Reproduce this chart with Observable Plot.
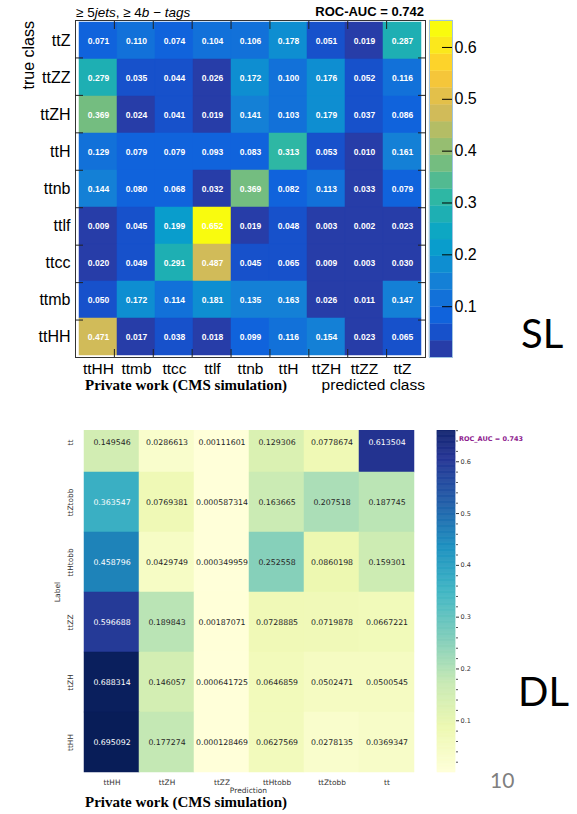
<!DOCTYPE html>
<html><head><meta charset="utf-8">
<script src="https://cdn.jsdelivr.net/npm/d3@7"></script>
<script src="https://cdn.jsdelivr.net/npm/@observablehq/plot@0.6"></script>
<style>
body{margin:0;background:#fff;}
#page{position:relative;width:577px;height:814px;overflow:hidden;background:#fff;}
.abs{position:absolute;white-space:nowrap;}
</style></head><body><div id="page"></div>
<script>
// ---------- SL (top) data ----------
const slTrue = ["ttZ","ttZZ","ttZH","ttH","ttnb","ttlf","ttcc","ttmb","ttHH"];
const slPred = ["ttHH","ttmb","ttcc","ttlf","ttnb","ttH","ttZH","ttZZ","ttZ"];
const slValues = [
  [0.071,0.110,0.074,0.104,0.106,0.178,0.051,0.019,0.287],
  [0.279,0.035,0.044,0.026,0.172,0.100,0.176,0.052,0.116],
  [0.369,0.024,0.041,0.019,0.141,0.103,0.179,0.037,0.086],
  [0.129,0.079,0.079,0.093,0.083,0.313,0.053,0.010,0.161],
  [0.144,0.080,0.068,0.032,0.369,0.082,0.113,0.033,0.079],
  [0.009,0.045,0.199,0.652,0.019,0.048,0.003,0.002,0.023],
  [0.020,0.049,0.291,0.487,0.045,0.065,0.009,0.003,0.030],
  [0.050,0.172,0.114,0.181,0.135,0.163,0.026,0.011,0.147],
  [0.471,0.017,0.038,0.018,0.099,0.116,0.154,0.023,0.065]
];
const slTicks = [0.1,0.2,0.3,0.4,0.5,0.6];
const slLevels = 20;

// ---------- DL (bottom) data ----------
const dlTrue = ["tt","ttZtobb","ttHtobb","ttZZ","ttZH","ttHH"];
const dlPred = ["ttHH","ttZH","ttZZ","ttHtobb","ttZtobb","tt"];
const dlValues = [
  [0.149546,0.0286613,0.00111601,0.129306,0.0778674,0.613504],
  [0.363547,0.0769381,0.000587314,0.163665,0.207518,0.187745],
  [0.458796,0.0429749,0.000349959,0.252558,0.0860198,0.159301],
  [0.596688,0.189843,0.00187071,0.0728885,0.0719878,0.0667221],
  [0.688314,0.146057,0.000641725,0.0646859,0.0502471,0.0500545],
  [0.695092,0.177274,0.000128469,0.0627569,0.0278135,0.0369347]
];
const dlTicks = [0.1,0.2,0.3,0.4,0.5,0.6];
const dlMinorTicks = [0.02,0.04,0.06,0.08,0.12,0.14,0.16,0.18,0.22,0.24,0.26,0.28,0.32,0.34,0.36,0.38,0.42,0.44,0.46,0.48,0.52,0.54,0.56,0.58,0.62,0.64,0.66,0.68];

// ---------- colour maps ----------
const kbStops=[0,.125,.25,.375,.5,.625,.75,.875,1];
const kbR=[0.2082,0.0592,0.0780,0.0232,0.1802,0.5301,0.8186,0.9956,0.9764];
const kbG=[0.1664,0.3599,0.5041,0.6419,0.7178,0.7492,0.7328,0.7862,0.9832];
const kbB=[0.5293,0.8684,0.8385,0.7914,0.6425,0.4662,0.3499,0.1968,0.0539];
const kbR_ = d3.scaleLinear().domain(kbStops).range(kbR);
const kbG_ = d3.scaleLinear().domain(kbStops).range(kbG);
const kbB_ = d3.scaleLinear().domain(kbStops).range(kbB);
const kbird = t => d3.rgb(kbR_(t)*255,kbG_(t)*255,kbB_(t)*255).formatHex();
const slFlat = slValues.flat();
const slMin = d3.min(slFlat), slMax = d3.max(slFlat);
const levelColor = i => kbird(Math.floor((i+0.99)*255/slLevels)/254);
const levelOf = v => Math.max(0, Math.min(slLevels-1, Math.floor((v-slMin)/(slMax-slMin)*slLevels)));
const slColor = v => levelColor(levelOf(v));

const ylgnbu = d3.piecewise(d3.interpolateRgb, ["#ffffd9","#edf8b1","#c7e9b4","#7fcdbb","#41b6c4","#1d91c0","#225ea8","#253494","#081d58"]);
const dlFlat = dlValues.flat();
const dlMin = d3.min(dlFlat), dlMax = d3.max(dlFlat);
const dlColor = v => d3.rgb(ylgnbu((v-dlMin)/(dlMax-dlMin))).formatHex();
function lum(hex){const c=d3.rgb(hex);const f=x=>{x/=255;return x<=0.03928?x/12.92:Math.pow((x+0.055)/1.055,2.4)};return 0.2126*f(c.r)+0.7152*f(c.g)+0.0722*f(c.b);}

const page = document.getElementById("page");
function place(el, left, top){ el.style.position="absolute"; el.style.left=left+"px"; el.style.top=top+"px"; return el; }
const BASE = {"Liberation Sans":0.8465,"Liberation Serif":0.8375,"DejaVu Sans":0.846,"Lato":0.887};
function label(html,{x,y,size,font="Liberation Sans",weight="normal",color="#000",anchor="start",parent=page}){
  const d=document.createElement("div"); d.className="abs"; d.innerHTML=html;
  d.style.font=`${weight} ${size}px "${font}"`; d.style.lineHeight=size+"px"; d.style.color=color;
  d.style.top=(y-BASE[font]*size)+"px";
  if(anchor==="start") d.style.left=x+"px";
  else if(anchor==="end") d.style.right=(577-x)+"px";
  else {d.style.left=x+"px"; d.style.transform="translateX(-50%)";}
  parent.appendChild(d); return d;
}
function vlabel(html,{xBase,yAnchor,size,font="Liberation Sans",color="#000",align="right"}){
  const W=200; const d=document.createElement("div"); d.className="abs"; d.innerHTML=html;
  d.style.font=`${size}px "${font}"`; d.style.lineHeight=size+"px"; d.style.color=color;
  d.style.width=W+"px"; d.style.textAlign=align; d.style.transformOrigin="0 0"; d.style.transform="rotate(-90deg)";
  d.style.left=(xBase-BASE[font]*size)+"px";
  d.style.top=(align==="right"? yAnchor+W : yAnchor+W/2)+"px";
  page.appendChild(d);
}

// ---------- SL heatmap ----------
const slData = slTrue.flatMap((t,i)=>slPred.map((p,j)=>({t,p,v:slValues[i][j]})));
const slPlot = Plot.plot({
  width:577, height:400, marginLeft:75, marginRight:152, marginTop:20, marginBottom:43,
  x:{domain:slPred, padding:0, axis:null}, y:{domain:slTrue, padding:0, axis:null},
  style:{fontFamily:"Liberation Sans", color:"#000", background:"transparent"},
  marks:[
    Plot.cell(slData,{x:"p",y:"t",fill:d=>slColor(d.v),stroke:d=>slColor(d.v),strokeWidth:0.5,inset:0}),
    Plot.text(slData,{x:"p",y:"t",text:d=>d.v.toFixed(3),fill:"white",fontSize:8.5,fontWeight:"bold"}),
    Plot.axisX({anchor:"bottom",tickSize:0,tickPadding:5,fontSize:15.5,label:null}),
    Plot.axisY({anchor:"left",tickSize:0,tickPadding:5,fontSize:16,label:null}),
    Plot.frame({stroke:"#333",strokeWidth:1})
  ]
});
page.appendChild(place(slPlot,0,0));

// ROOT-style inward ticks at cell boundaries (overlay with index scales)
const slBounds = d3.range(1, slPred.length);
const slTickOverlay = Plot.plot({
  width:577, height:400, marginLeft:75, marginRight:152, marginTop:20, marginBottom:43,
  x:{domain:[0, slPred.length], axis:null}, y:{domain:[slTrue.length, 0], axis:null},
  style:{background:"transparent"},
  marks:[
    Plot.axisX({anchor:"top",ticks:slBounds,tickSize:-8,tickFormat:()=>"",label:null,stroke:"#222"}),
    Plot.axisX({anchor:"bottom",ticks:slBounds,tickSize:-8,tickFormat:()=>"",label:null,stroke:"#222"}),
    Plot.axisY({anchor:"left",ticks:slBounds,tickSize:-8,tickFormat:()=>"",label:null,stroke:"#222"}),
    Plot.axisY({anchor:"right",ticks:slBounds,tickSize:-8,tickFormat:()=>"",label:null,stroke:"#222"})
  ]
});
page.appendChild(place(slTickOverlay,0,0));

// SL colour bar
const slBands = d3.range(slLevels).map(i=>({lo:slMin+i*(slMax-slMin)/slLevels, hi:slMin+(i+1)*(slMax-slMin)/slLevels, c:levelColor(i)}));
const slBar = Plot.plot({
  width:23+45, height:337+20, marginLeft:0, marginRight:45, marginTop:10, marginBottom:10,
  y:{domain:[slMin,slMax]},
  style:{fontFamily:"Liberation Sans", color:"#000", background:"transparent", overflow:"visible"},
  marks:[
    Plot.rect(slBands,{y1:"lo",y2:"hi",fill:"c",stroke:"c",strokeWidth:0.3}),
    Plot.axisY({anchor:"right",ticks:slTicks,tickSize:-11,tickPadding:13,fontSize:16,tickFormat:d3.format(".1f"),label:null}),
    Plot.frame({stroke:"#9fc3e0",strokeWidth:1})
  ]
});
page.appendChild(place(slBar,429,10));

// SL texts
label('≥ 5<i>jets</i>, ≥ 4<i>b − tags</i>',{x:76,y:17,size:13.5});
label('ROC-AUC = 0.742',{x:424,y:16,size:13,weight:"bold",anchor:"end"});
vlabel('true class',{xBase:35,yAnchor:21,size:16});
label('predicted class',{x:425,y:390,size:15.5,anchor:"end"});
label('Private work (CMS simulation)',{x:85,y:391,size:15,font:"Liberation Serif",weight:"bold"});
label('SL',{x:521,y:348,size:40,font:"Lato"});

// ---------- DL heatmap (top row cropped) ----------
const clip = document.createElement("div");
clip.style.cssText="position:absolute;left:0;top:430px;width:577px;height:384px;overflow:hidden;";
page.appendChild(clip);
const dlData = dlTrue.flatMap((t,i)=>dlPred.map((p,j)=>({t,p,v:dlValues[i][j]})));
const dlPlot = Plot.plot({
  width:577, height:380, marginLeft:81, marginRight:161, marginTop:0, marginBottom:20,
  x:{domain:dlPred, padding:0, axis:null}, y:{domain:dlTrue, padding:0, axis:null},
  style:{fontFamily:"DejaVu Sans", color:"#333", background:"transparent"},
  marks:[
    Plot.cell(dlData,{x:"p",y:"t",fill:d=>dlColor(d.v),stroke:d=>dlColor(d.v),strokeWidth:0.5,inset:0}),
    Plot.text(dlData,{x:"p",y:"t",text:d=>d3.format(".6~g")(d.v),fill:d=>lum(dlColor(d.v))>0.408?"#262626":"#ffffff",fontSize:7.8}),
    Plot.axisX({anchor:"bottom",tickSize:0,tickPadding:7,fontSize:7.4,fill:"#333",label:null}),
    Plot.text(dlTrue,{y:d=>d,frameAnchor:"left",dx:-10.5,rotate:-90,textAnchor:"middle",lineAnchor:"middle",fontSize:7.4,fill:"#333"})
  ]
});
clip.appendChild(place(dlPlot,0,-18));

const dlSteps = d3.range(300).map(i=>({lo:dlMin+i*(dlMax-dlMin)/300, hi:dlMin+(i+1)*(dlMax-dlMin)/300}));
const dlBar = Plot.plot({
  width:18+40, height:360, marginLeft:0, marginRight:40, marginTop:0, marginBottom:0,
  y:{domain:[dlMin,dlMax]},
  style:{fontFamily:"DejaVu Sans", color:"#333", background:"transparent", overflow:"visible"},
  marks:[
    Plot.rect(dlSteps,{y1:"lo",y2:"hi",fill:d=>dlColor((d.lo+d.hi)/2),stroke:d=>dlColor((d.lo+d.hi)/2),strokeWidth:0.6}),
    Plot.axisY({anchor:"right",ticks:dlMinorTicks,tickSize:2,tickFormat:()=>"",label:null,stroke:"#555"}),
    Plot.axisY({anchor:"right",ticks:dlTicks,tickSize:3,tickPadding:2,fontSize:6.5,tickFormat:d3.format(".1f"),label:null,fill:"#333",stroke:"#333"})
  ]
});
clip.appendChild(place(dlBar,437,-18));

// DL texts
label('ROC_AUC = 0.743',{x:459,y:441,size:6.5,font:"DejaVu Sans",weight:"bold",color:"#8e1a8e"});
vlabel('Label',{xBase:60,yAnchor:592,size:7.5,font:"DejaVu Sans",color:"#333",align:"center"});
label('Prediction',{x:248.5,y:793,size:7.5,font:"DejaVu Sans",color:"#333",anchor:"middle"});
label('Private work (CMS simulation)',{x:85,y:808,size:15,font:"Liberation Serif",weight:"bold"});
label('DL',{x:518,y:706,size:40,font:"Lato"});
label('10',{x:490,y:788,size:21,font:"Lato",color:"#7f7f7f"});
</script></body></html>
